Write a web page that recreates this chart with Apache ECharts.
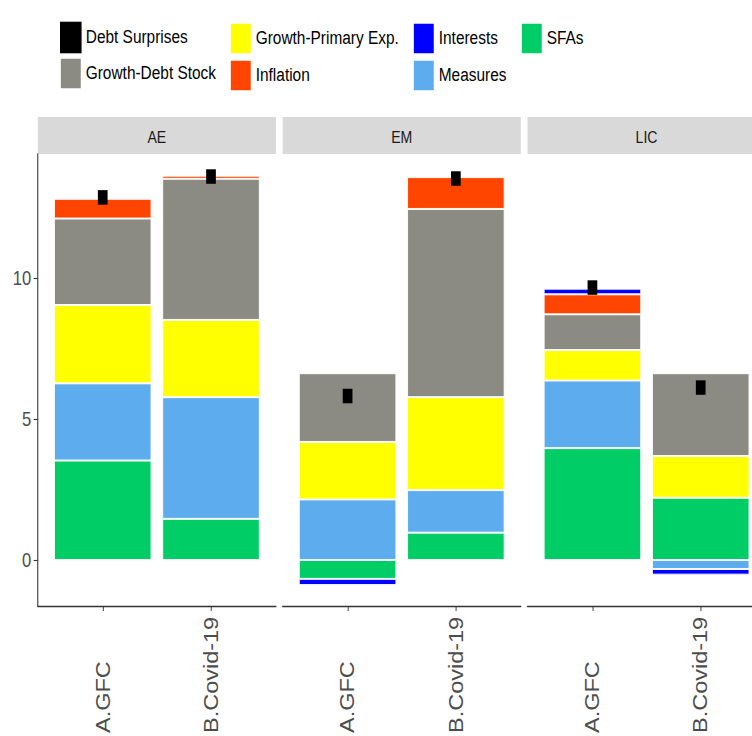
<!DOCTYPE html>
<html>
<head>
<meta charset="utf-8">
<script src="https://cdn.jsdelivr.net/npm/echarts@6/dist/echarts.min.js"></script>
<style>
  html, body { margin: 0; padding: 0; overflow: hidden; background: #fff; width: 752px; height: 736px; }
  /* the chart is laid out wide and then narrowed horizontally */
  #chart { width: 923px; height: 736px; transform: scaleX(0.83); transform-origin: 0 0; }
</style>
</head>
<body>
<div id="chart"></div>
<script>
// ---- data (each entry: [A.GFC, B.Covid-19]) ----
const groups = ['AE', 'EM', 'LIC'];
const periods = ['A.GFC', 'B.Covid-19'];
const yTicks = [0, 5, 10];

const sfas          = [[3.53, 1.46], [-0.67, 0.97], [3.97, 2.21]];
const measures      = [[2.74, 4.32], [2.15, 1.51], [2.40, -0.32]];
const growthPrimary = [[2.78, 2.74], [2.04, 3.30], [1.08, 1.48]];
const growthDebt    = [[3.07, 5.01], [2.44, 6.68], [1.27, 2.94]];
const inflation     = [[0.70, 0.11], [0.00, 1.13], [0.71, 0.00]];
const interests     = [[0.00, 0.00], [-0.22, 0.00], [0.20, -0.20]];
const debtSurprises = [[12.87, 13.61], [5.82, 13.54], [9.67, 6.12]];

// ---- styling ----
const components = [
  { name: 'SFAs',                values: sfas,          color: '#00CD66' },
  { name: 'Measures',            values: measures,      color: '#5CACEE' },
  { name: 'Growth-Primary Exp.', values: growthPrimary, color: '#FFFF00' },
  { name: 'Growth-Debt Stock',   values: growthDebt,    color: '#8B8B83' },
  { name: 'Inflation',           values: inflation,     color: '#FF4500' },
  { name: 'Interests',           values: interests,     color: '#0000FF' }
];
const legendColumns = [
  ['Debt Surprises', 'Growth-Debt Stock'],
  ['Growth-Primary Exp.', 'Inflation'],
  ['Interests', 'Measures'],
  ['SFAs']
];
const legendLefts = [66.3, 271.1, 491.6, 621.7];

const FONT = 'Liberation Sans, Arial, sans-serif';
const panelLefts = [45.5, 340.5, 635.5];
const panelW = 287;
const plotTop = 154, plotH = 452;
const stripTop = 117, stripH = 37;
const yMin = -1.633, yMax = 14.41;

// The x axis is a row of evenly spaced slots spanning the panel edge to edge;
// the two periods sit on slots 3 and 8 (panel padding of 0.6 of a category step).
const slotCount = 12;
const periodSlots = [3, 8];
const slots = Array.from({ length: slotCount }, (_, i) => 'slot' + i);
const slotLabel = i => { const k = periodSlots.indexOf(i); return k < 0 ? '' : periods[k]; };
const step = panelW / (slotCount - 1) * (periodSlots[1] - periodSlots[0]);

const toSlots = vals => {
  const arr = slots.map(() => '-');
  vals.forEach((v, pi) => { if (v !== 0) arr[periodSlots[pi]] = v; });
  return arr;
};

const grid = [], xAxis = [], yAxis = [], series = [], graphic = [];

groups.forEach((g, gi) => {
  grid.push({ left: panelLefts[gi], top: plotTop, width: panelW, height: plotH });

  xAxis.push({
    gridIndex: gi, type: 'category', data: slots, boundaryGap: false,
    splitLine: { show: false },
    axisLine: { show: true, onZero: false, lineStyle: { color: '#333333', width: 1.3 } },
    axisTick: {
      show: true, length: 5, lineStyle: { color: '#333333', width: 1.1 },
      interval: i => periodSlots.indexOf(i) >= 0
    },
    axisLabel: {
      interval: i => periodSlots.indexOf(i) >= 0,
      formatter: (v, i) => slotLabel(i),
      rotate: 90, align: 'left', margin: 127,
      fontSize: 23.5, color: '#4D4D4D', fontFamily: FONT
    }
  });

  yAxis.push({
    gridIndex: gi, type: 'value', min: yMin, max: yMax, show: gi === 0,
    splitLine: { show: false },
    axisLine: { show: true, onZero: false, lineStyle: { color: '#333333', width: 1.3 } },
    axisTick: { show: true, customValues: yTicks, length: 5, lineStyle: { color: '#333333', width: 1.1 } },
    axisLabel: { customValues: yTicks, margin: 8, fontSize: 20, color: '#4D4D4D', fontFamily: FONT }
  });

  components.forEach(c => {
    series.push({
      type: 'bar', name: c.name, xAxisIndex: gi, yAxisIndex: gi,
      stack: 'g' + gi, barWidth: step * 0.9,
      itemStyle: { color: c.color, borderColor: '#ffffff', borderWidth: 1 },
      data: toSlots(c.values[gi])
    });
  });

  series.push({
    type: 'scatter', name: 'Debt Surprises', xAxisIndex: gi, yAxisIndex: gi,
    symbol: 'rect', symbolSize: [11.7, 14.5], z: 5,
    itemStyle: { color: '#000000', opacity: 1 },
    data: toSlots(debtSurprises[gi])
  });

  // facet strip
  graphic.push({
    type: 'rect',
    shape: { x: panelLefts[gi], y: stripTop, width: panelW, height: stripH },
    style: { fill: '#D9D9D9' }
  });
  graphic.push({
    type: 'text',
    x: panelLefts[gi] + panelW / 2, y: stripTop + stripH / 2 + 2,
    style: { text: g, align: 'center', verticalAlign: 'middle', fontSize: 17, fontFamily: FONT, fill: '#1A1A1A' }
  });
});

const legend = legendColumns.map((col, ci) => ({
  orient: 'vertical', left: legendLefts[ci], top: 16.7,
  itemWidth: 26, itemHeight: 31.6, itemGap: 3.4,
  selectedMode: false,
  data: col.map(n => ({ name: n, icon: 'rect', itemStyle: { opacity: 1 } })),
  textStyle: { fontSize: 18.6, color: '#000000', fontFamily: FONT }
}));

const chart = echarts.init(document.getElementById('chart'), null, { renderer: 'svg' });
chart.setOption({
  animation: false,
  backgroundColor: '#ffffff',
  textStyle: { fontFamily: FONT },
  legend, grid, xAxis, yAxis, series, graphic
});
</script>
</body>
</html>
